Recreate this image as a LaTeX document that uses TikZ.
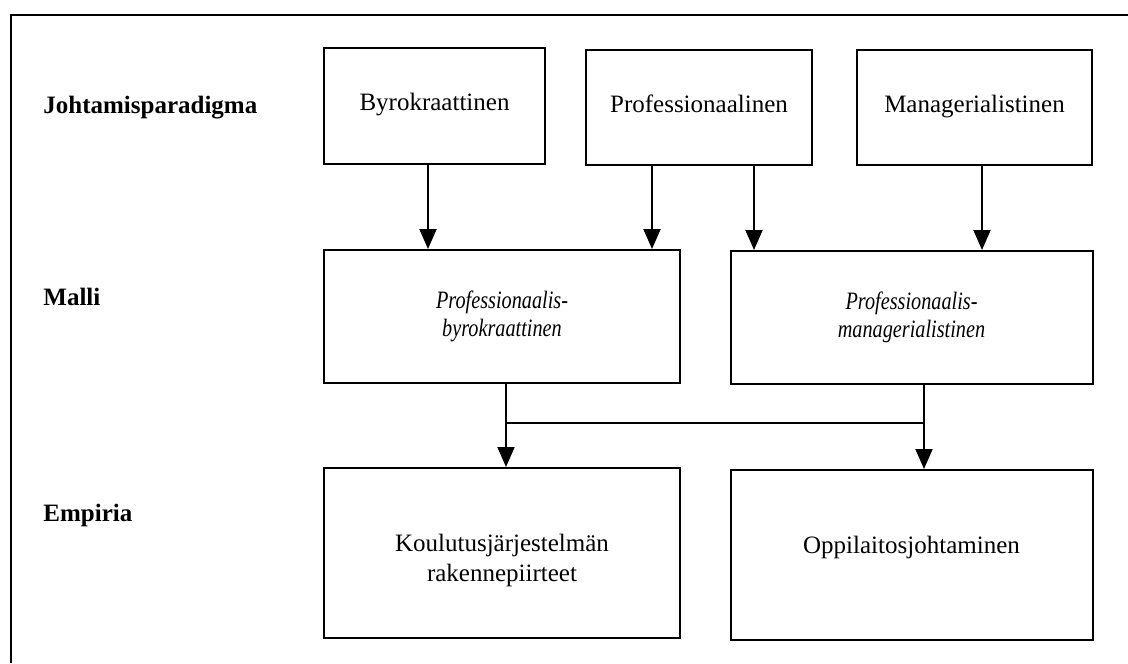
\documentclass[tikz,border=0pt]{standalone}
\usepackage{fontspec}
\setmainfont{Liberation Serif}
\newfontfamily\condit{Liberation Serif}[FakeStretch=0.81]
\usetikzlibrary{arrows.meta}
\begin{document}
\begin{tikzpicture}[x=0.5pt,y=-0.5pt,
  box/.style={draw, line width=1pt, inner sep=0pt, align=center,
    font=\fontsize{12.5}{15}\selectfont},
  oneline/.style={text height=0.72em, text depth=0.22em},
  lbl/.style={anchor=west, inner sep=0pt, font=\fontsize{12.5}{15}\selectfont\bfseries},
  txt/.style={align=center, inner sep=0pt, font=\fontsize{12.5}{15}\selectfont},
  ittxt/.style={font=\fontsize{12.5}{14}\selectfont\condit\itshape},
  conn/.style={line width=1pt},
  arr/.style={conn, -{Triangle[length=10pt,width=8.5pt]}}]
\useasboundingbox (0,0) rectangle (1128,663);
% frame
\coordinate (fa) at (11,663);
\coordinate (fb) at (11,15);
\coordinate (fc) at (1128,15);
\draw[conn] (fa) -- (fb) -- (fc);
% row labels
\node[lbl] (l1) at (43,108) {Johtamisparadigma};
\node[lbl] (l2) at (43,297) {Malli};
\node[lbl] (l3) at (43,515) {Empiria};
% top boxes
\node[box, oneline, minimum width=110.5pt, minimum height=58pt] (t1) at (434.5,106) {Byrokraattinen};
\node[box, oneline, minimum width=113pt, minimum height=57.5pt] (t2) at (699,107.5) {Professionaalinen};
\node[box, oneline, minimum width=117.5pt, minimum height=57.5pt] (t3) at (974.5,107.5) {Managerialistinen};
% middle boxes
\node[box, ittxt, minimum width=178pt, minimum height=66.5pt] (m1) at (502,316.5) {Professionaalis-\\byrokraattinen};
\node[box, ittxt, minimum width=181pt, minimum height=66.5pt] (m2) at (911.5,317.5) {Professionaalis-\\managerialistinen};
% bottom boxes
\node[box, minimum width=178pt, minimum height=85pt] (b1) at (502,553) {};
\node[box, minimum width=181pt, minimum height=85pt] (b2) at (911.5,555) {};
\node[txt] (b1t) at (502,560) {Koulutusjärjestelmän\\rakennepiirteet};
\node[txt, oneline] (b2t) at (911.5,548) {Oppilaitosjohtaminen};
% connector x positions
\coordinate (xa) at (428,0);
\coordinate (xb) at (652,0);
\coordinate (xc) at (754,0);
\coordinate (xd) at (982,0);
\coordinate (xe) at (506,0);
\coordinate (xf) at (924,0);
\coordinate (jy) at (0,423);
% arrows top -> middle
\draw[arr] (t1.south -| xa) -- (m1.north -| xa);
\draw[arr] (t2.south -| xb) -- (m1.north -| xb);
\draw[arr] (t2.south -| xc) -- (m2.north -| xc);
\draw[arr] (t3.south -| xd) -- (m2.north -| xd);
% middle -> bottom
\draw[arr] (m1.south -| xe) -- (b1.north -| xe);
\draw[arr] (m2.south -| xf) -- (b2.north -| xf);
\draw[conn] (xe |- jy) -- (xf |- jy);
\end{tikzpicture}
\end{document}
